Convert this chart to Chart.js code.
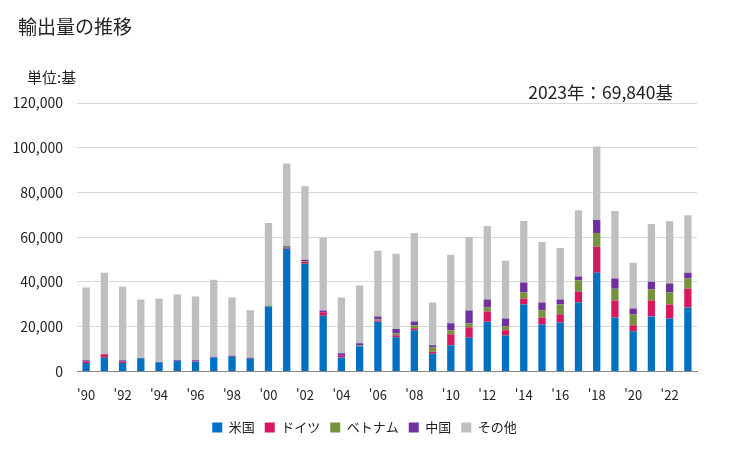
<!DOCTYPE html>
<html lang="ja">
<head>
<meta charset="utf-8">
<title>輸出量の推移</title>
<script src="https://cdn.jsdelivr.net/npm/chart.js@4/dist/chart.umd.min.js"></script>
<style>
  body { margin: 0; background: #fff; font-family: "Noto Sans CJK JP", sans-serif; }
  #wrap { position: relative; width: 729px; height: 450px; }
  #chart { position: absolute; left: 0; top: 0; }
  .txt { position: absolute; color: #222; white-space: nowrap; }
  #title { left: 18px; top: 12px; font-size: 19px; }
  #unit { left: 27px; top: 66px; font-size: 15px; }
  #note { right: 56px; top: 79px; font-size: 17.5px; }
</style>
</head>
<body>
<div id="wrap">
  <canvas id="chart" width="729" height="450"></canvas>
  <div class="txt" id="title">輸出量の推移</div>
  <div class="txt" id="unit">単位:基</div>
  <div class="txt" id="note">2023年：69,840基</div>
</div>
<script>
// years and values
const years = [1990, 1991, 1992, 1993, 1994, 1995, 1996, 1997, 1998, 1999,
  2000, 2001, 2002, 2003, 2004, 2005, 2006, 2007, 2008, 2009,
  2010, 2011, 2012, 2013, 2014, 2015, 2016, 2017, 2018, 2019,
  2020, 2021, 2022, 2023];

const usa = [3700, 6100, 3700, 5900, 4100, 4600, 4300, 6200, 6500, 5600,
  29000, 54800, 48100, 24900, 6200, 11250, 22200, 15250, 18350, 7850,
  11700, 15100, 22200, 16000, 29900, 21000, 21900, 30800, 44100, 24100,
  17900, 24600, 23700, 28600];
const germany = [700, 1600, 700, 0, 0, 0, 200, 0, 0, 0,
  0, 400, 800, 1500, 750, 0, 600, 900, 900, 900,
  4900, 4600, 4600, 2350, 2700, 3100, 3600, 4900, 11600, 7600,
  2700, 7100, 6200, 8400];
const vietnam = [0, 0, 0, 0, 0, 0, 0, 0, 0, 0,
  500, 500, 200, 0, 0, 450, 450, 850, 1350, 2050,
  1750, 1800, 1800, 1750, 2650, 3150, 4400, 4900, 6200, 5300,
  4900, 4900, 5350, 4500];
const china = [600, 100, 600, 100, 100, 400, 500, 300, 500, 500,
  0, 400, 800, 850, 1200, 900, 1350, 1950, 1750, 900,
  3150, 5750, 3500, 3600, 4450, 3550, 2200, 1800, 5800, 4500,
  2600, 3500, 4000, 2600];
const others = [32500, 36300, 32900, 26100, 28400, 29400, 28500, 34500, 26000, 21200,
  36900, 36900, 32900, 32450, 24850, 25800, 29300, 33650, 39550, 19100,
  30600, 32850, 32900, 25800, 27500, 27100, 23100, 29700, 32900, 30200,
  20500, 25800, 27950, 25740];

const seriesNames = ['米国', 'ドイツ', 'ベトナム', '中国', 'その他'];
const seriesColors = ['#0070C0', '#D6195E', '#76923C', '#7030A0', '#BFBFBF'];
const seriesData = [usa, germany, vietnam, china, others];

const yTicks = [0, 20000, 40000, 60000, 80000, 100000, 120000];

const fontFamily = '"Noto Sans CJK JP", sans-serif';

const ctx = document.getElementById('chart').getContext('2d');
const chart = new Chart(ctx, {
  type: 'bar',
  data: {
    labels: years.map(y => "'" + String(y).slice(2)),
    datasets: seriesNames.map((name, i) => ({
      label: name,
      data: seriesData[i],
      backgroundColor: seriesColors[i],
      borderWidth: 0,
      barPercentage: 0.4,
      categoryPercentage: 1.0
    }))
  },
  options: {
    responsive: false,
    animation: false,
    layout: { padding: { top: 103, left: 0, right: 0, bottom: 6 } },
    plugins: {
      legend: {
        position: 'bottom',
        labels: {
          boxWidth: 10,
          boxHeight: 10,
          padding: 10,
          color: '#222',
          font: { family: fontFamily, size: 13 }
        }
      },
      tooltip: { enabled: false }
    },
    scales: {
      x: {
        stacked: true,
        grid: { display: false },
        border: { color: '#888', width: 1 },
        ticks: {
          autoSkip: false,
          maxRotation: 0,
          color: '#222',
          padding: 8,
          font: { family: fontFamily, size: 13 },
          callback: function(value, index) {
            return index % 2 === 0 ? this.getLabelForValue(value) : '';
          }
        }
      },
      y: {
        stacked: true,
        min: 0,
        max: 120000,
        afterBuildTicks: axis => { axis.ticks = yTicks.map(v => ({ value: v })); },
        afterFit: axis => { axis.width = 77; },
        grid: { color: '#d9d9d9', drawTicks: false },
        border: { display: false },
        ticks: {
          color: '#222',
          padding: 14,
          font: { family: fontFamily, size: 14 },
          callback: v => v.toLocaleString('en-US')
        }
      },
      // empty right axis that only keeps a gap on the right side
      yRight: {
        position: 'right',
        grid: { display: false },
        border: { display: false },
        ticks: { display: false },
        afterFit: axis => { axis.width = 32; }
      }
    }
  }
});
</script>
</body>
</html>
